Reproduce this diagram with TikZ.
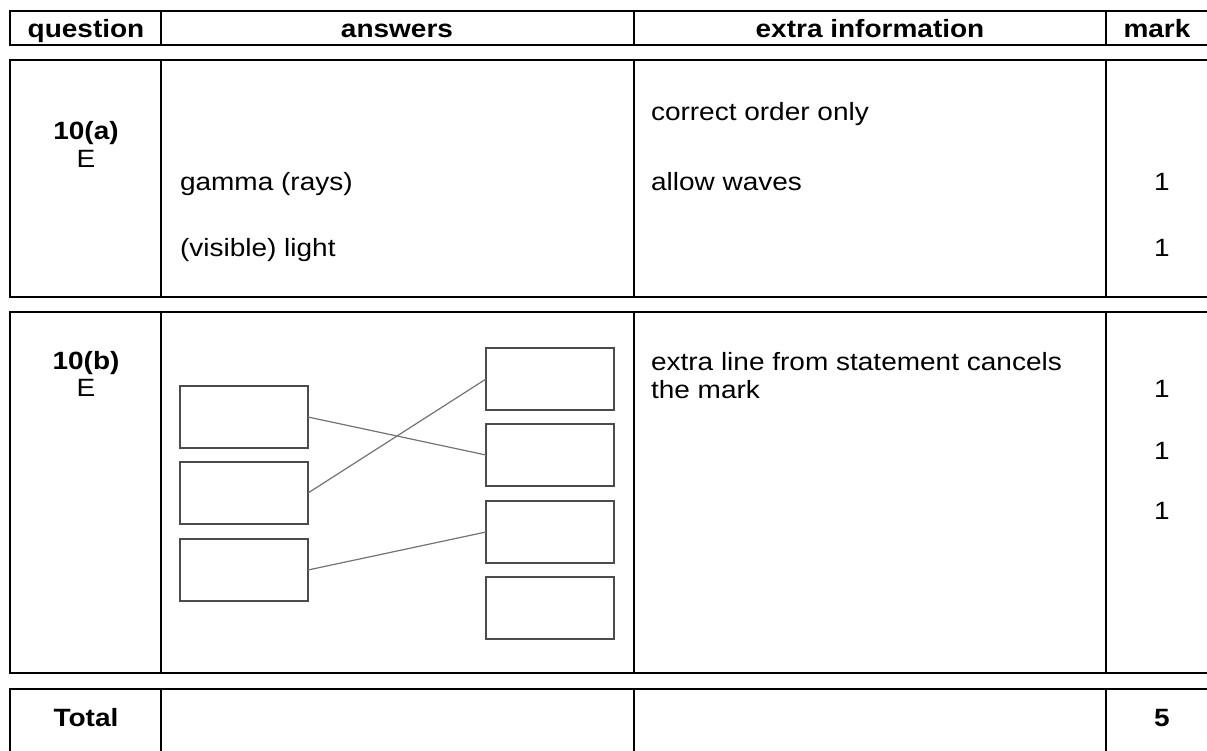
\documentclass[tikz,border=0pt]{standalone}
\usepackage{fontspec}
\setmainfont{Liberation Sans}[FakeStretch=1.12]
\usetikzlibrary{positioning}
\tikzset{
    every node/.style = {
        inner sep = 0pt,
        outer sep = 0pt
    },
    rule/.style = {
        line width = 1pt
    },
    cell/.style = {
        anchor = base west
    },
    cellmid/.style = {
        anchor = base
    },
    cellbold/.style = {
        anchor = base,
        font = \fontsize{12.5}{15}\selectfont\bfseries
    },
    pairbox/.style = {
        draw = black!70,
        line width = 0.8pt,
        minimum width = 64pt,
        minimum height = 31pt
    },
    pairline/.style = {
        draw = black!55,
        line width = 0.6pt
    }
}

\begin{document}
\begin{tikzpicture}[
        x = 0.5pt,
        y = -0.5pt,
        font = \fontsize{12.5}{15}\selectfont,
    ]{
        \useasboundingbox (0,0) rectangle (1207,751);
        \clip (0,0) rectangle (1207,751);
        \foreach \rtop/\rbot in {11/45, 60/297, 312/673, 689/760} {
            \draw[rule] (10,\rtop) rectangle (1220,\rbot);
            \foreach \cx in {161,634,1106}
                \draw[rule] (\cx,\rtop) -- (\cx,\rbot);
        }
        \node (hq) at (86,37)   [cellbold]{question};
        \node (ha) at (397,37)  [cellbold]{answers};
        \node (he) at (870,37)  [cellbold]{extra information};
        \node (hm) at (1157,37) [cellbold]{mark};

        \node (qa)  at (86,139)  [cellbold]{10(a)};
        \node (qae) at (86,167)  [cellmid]{E};
        \node (aa1) at (180,190) [cell]{gamma (rays)};
        \node (aa2) at (180,256) [cell]{(visible) light};
        \node (ea1) at (651,120) [cell]{correct order only};
        \node (ea2) at (651,190) [cell]{allow waves};
        \node (ma1) at (1162,190) [cellmid]{1};
        \node (ma2) at (1162,256) [cellmid]{1};

        \node (qb)  at (86,369)  [cellbold]{10(b)};
        \node (qbe) at (86,396)  [cellmid]{E};
        \node (eb1) at (651,370) [cell]{extra line from statement cancels};
        \node (eb2) at (651,398) [cell]{the mark};
        \node (mb1) at (1162,397) [cellmid]{1};
        \node (mb2) at (1162,459) [cellmid]{1};
        \node (mb3) at (1162,519) [cellmid]{1};

        \node (l1) at (244,417) [pairbox]{};
        \node (l2) at (244,493) [pairbox]{};
        \node (l3) at (244,570) [pairbox]{};
        \node (r1) at (550,379) [pairbox]{};
        \node (r2) at (550,455) [pairbox]{};
        \node (r3) at (550,532) [pairbox]{};
        \node (r4) at (550,608) [pairbox]{};
        \draw[pairline] (l1.east) -- (r2.west);
        \draw[pairline] (l2.east) -- (r1.west);
        \draw[pairline] (l3.east) -- (r3.west);

        \node (tq) at (86,726)   [cellbold]{Total};
        \node (tm) at (1162,726) [cellbold]{5};
    }
\end{tikzpicture}
\end{document}
